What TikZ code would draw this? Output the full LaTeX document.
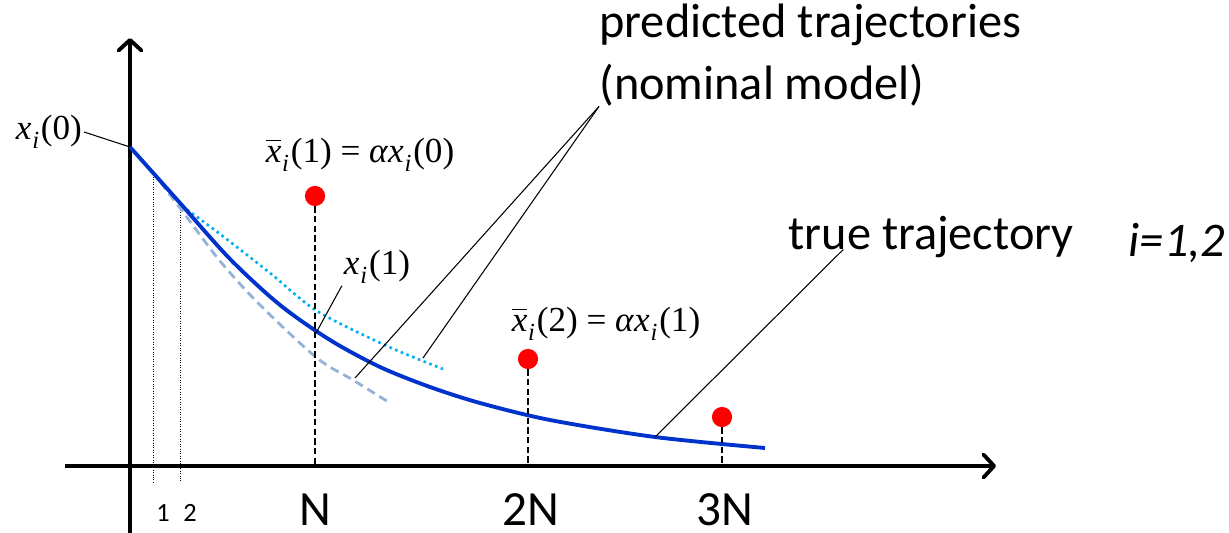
\documentclass[tikz,border=0pt]{standalone}
\usepackage{fontspec}
\setmainfont{Carlito}
\newfontfamily\tms{Liberation Serif}
\usetikzlibrary{arrows.meta}
\definecolor{bleu}{RGB}{0,51,204}
\definecolor{ciel}{RGB}{0,176,240}
\definecolor{grisb}{RGB}{149,179,215}
\definecolor{rouge}{RGB}{255,0,0}
% x with index i, Times-like
\newcommand{\xsub}{\textit{x}\kern0.5pt\raisebox{-0.55ex}{\fontsize{14}{14}\selectfont\itshape i}\kern1pt}
\newcommand{\xbar}{\rlap{\raisebox{0.62em}{\rule{0.42em}{0.7pt}}}\textit{x}\kern0.5pt\raisebox{-0.55ex}{\fontsize{14}{14}\selectfont\itshape i}\kern1pt}
\tikzset{
  axe/.style={line width=2.4pt, line cap=butt, -{Straight Barb[length=6pt, width=13pt, line width=2.2pt, round]}},
  vrai/.style={bleu, line width=2.2pt},
  pred/.style={ciel, line width=1.5pt, dotted},
  nomi/.style={grisb, line width=1.6pt, dash pattern=on 5pt off 3pt},
  tige/.style={black, line width=1.3pt, dash pattern=on 3.5pt off 2pt},
  fin/.style={black, line width=0.4pt, densely dotted},
  fil/.style={black, line width=0.6pt},
  pt/.style={circle, fill=rouge, inner sep=0pt, minimum size=11.5pt},
  mth/.style={inner sep=1pt, font=\tms\fontsize{20}{24}\selectfont},
  txt/.style={inner sep=0pt, font=\fontsize{27.5}{35}\selectfont, align=left},
  tck/.style={inner sep=0pt, font=\fontsize{28}{30}\selectfont},
  pet/.style={inner sep=0pt, font=\fontsize{15}{18}\selectfont},
}
\begin{document}
\begin{tikzpicture}[x=0.02cm,y=-0.02cm]
  \useasboundingbox (0,0) rectangle (1229,533);
  % axes
  \coordinate (O) at (130,466);
  \coordinate (ybas) at (130,533);
  \coordinate (yhaut) at (130,38);
  \coordinate (xgau) at (65,466);
  \coordinate (xdro) at (996,466);
  \draw[axe] (ybas) -- (yhaut);
  \draw[axe] (xgau) -- (xdro);

  % thin steps 1, 2
  \coordinate (s1) at (153,172);
  \coordinate (s2) at (180,205);
  \draw[fin] (s1) -- (153,482);
  \draw[fin] (s2) -- (180,482);

  % trajectories
  \draw[nomi] plot[smooth] coordinates {(152,171) (180,208) (220,261) (260,305) (317,358) (353,380) (390,403)};
  \draw[pred] plot[smooth] coordinates {(182,206) (220,234) (270,273) (317,311) (387,346) (443,369)};
  \draw[vrai] plot[smooth] coordinates {(130,147) (180,203) (230,259) (280,305) (330,340) (380,367) (430,387) (480,403) (550,420) (655,437) (765,448)};

  % predicted values
  \node[pt] (d1) at (315,196) {};
  \node[pt] (d2) at (528,359) {};
  \node[pt] (d3) at (722,417) {};
  \draw[tige] (d1.south) -- (d1 |- O);
  \draw[tige] (d2.south) -- (d2 |- O);
  \draw[tige] (d3.south) -- (d3 |- O);

  % ticks
  \node[pet] (t1) at (163,513) {1};
  \node[pet] (t2) at (190,513) {2};
  \node[tck] (tN) at (315,510) {N};
  \node[tck] (t2N) at (531,510) {2N};
  \node[tck] (t3N) at (725,510) {3N};

  % labels
  \coordinate (c0) at (130,147);
  \coordinate (c1) at (316,333);
  \coordinate (cn) at (355,378);
  \coordinate (cp) at (423,358);
  \coordinate (ct) at (655,437);
  \node[mth, anchor=east] (x0) at (84,132) {\xsub(0)};
  \node[mth] (xb1) at (360,155) {\xbar(1) = \textit{α}\xsub(0)};
  \node[mth] (x1) at (377,267) {\xsub(1)};
  \node[mth] (xb2) at (606,324) {\xbar(2) = \textit{α}\xsub(1)};
  \node[txt, anchor=north west] (pr) at (599,4) {predicted trajectories\\(nominal model)};
  \node[txt] (tv) at (931,237) {true trajectory};
  \node[txt] (ii) at (1177,243) {\itshape i=1,2};
  \draw[fil] (x0.east) -- (c0);
  \draw[fil] (x1.south west) -- (c1);
  \draw[fil] (pr.south west) -- (cn);
  \draw[fil] (pr.south west) -- (cp);
  \draw[fil] ([xshift=1.1cm]tv.base west) -- (ct);
\end{tikzpicture}
\end{document}
